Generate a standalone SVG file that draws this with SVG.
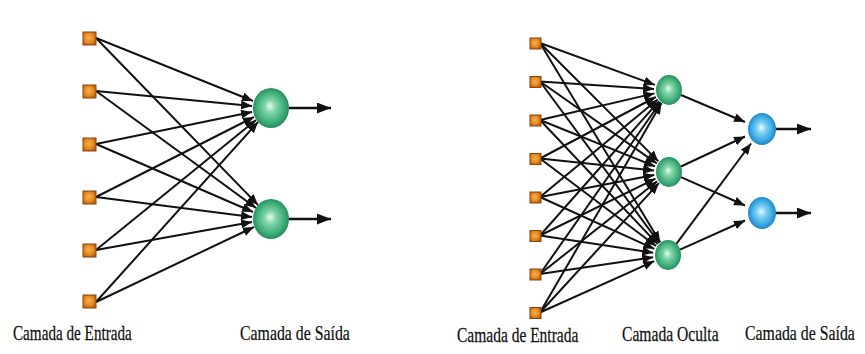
<svg xmlns="http://www.w3.org/2000/svg" width="865" height="354" viewBox="0 0 865 354">
<style>
.c line{stroke:#111;stroke-width:2;marker-end:url(#ah)}
.c .o{stroke-width:2.4;marker-end:url(#ahb)}
.sq{stroke:#8a4608;stroke-width:1;fill:url(#gs)}
.g{fill:url(#gg)}
.b{fill:url(#gb)}
.t{font-family:"Liberation Serif","Times New Roman",serif;font-size:22px;fill:#111;stroke:#111;stroke-width:0.25}
</style>
<defs>
<marker id="ah" markerUnits="userSpaceOnUse" markerWidth="11" markerHeight="9" refX="11" refY="4.5" orient="auto"><path d="M0,0 L11,4.5 L0,9 z" fill="#111"/></marker>
<marker id="ahb" markerUnits="userSpaceOnUse" markerWidth="14" markerHeight="11" refX="14" refY="5.5" orient="auto"><path d="M0,0 L14,5.5 L0,11 z" fill="#111"/></marker>
<radialGradient id="gs" cx="0.45" cy="0.45" r="0.6"><stop offset="0" stop-color="#f7b04a"/><stop offset="0.6" stop-color="#e68a22"/><stop offset="1" stop-color="#b8600f"/></radialGradient>
<radialGradient id="gg" cx="0.5" cy="0.5" r="0.55" fx="0.47" fy="0.45"><stop offset="0" stop-color="#e6fbef"/><stop offset="0.3" stop-color="#7fd4a6"/><stop offset="0.75" stop-color="#36a872"/><stop offset="1" stop-color="#1d7d52"/></radialGradient>
<radialGradient id="gb" cx="0.5" cy="0.5" r="0.55" fx="0.47" fy="0.45"><stop offset="0" stop-color="#eafaff"/><stop offset="0.3" stop-color="#7fd2f4"/><stop offset="0.75" stop-color="#2fa2dc"/><stop offset="1" stop-color="#1a6fae"/></radialGradient>
</defs>
<rect width="865" height="354" fill="#fff"/>
<g id="connectors" class="c">
<line x1="96" y1="38" x2="253" y2="101"/>
<line x1="96" y1="91" x2="252" y2="106"/>
<line x1="96" y1="144" x2="252" y2="112"/>
<line x1="96" y1="197" x2="254" y2="117"/>
<line x1="96" y1="250" x2="256" y2="120"/>
<line x1="96" y1="302" x2="258" y2="122"/>
<line x1="96" y1="38" x2="258" y2="205"/>
<line x1="96" y1="91" x2="256" y2="208"/>
<line x1="96" y1="144" x2="253" y2="212"/>
<line x1="96" y1="197" x2="252" y2="217"/>
<line x1="96" y1="250" x2="252" y2="222"/>
<line x1="96" y1="302" x2="254" y2="227"/>
<line class="o" x1="289" y1="108" x2="331" y2="108"/>
<line class="o" x1="289" y1="219" x2="331" y2="219"/>
<line x1="540" y1="43" x2="654.9" y2="84.9"/>
<line x1="540" y1="81.5" x2="654" y2="89"/>
<line x1="540" y1="120" x2="654.4" y2="93.4"/>
<line x1="540" y1="158.5" x2="655.8" y2="97"/>
<line x1="540" y1="197" x2="657.5" y2="99.6"/>
<line x1="540" y1="235.5" x2="659" y2="101.2"/>
<line x1="540" y1="274" x2="660.4" y2="102.3"/>
<line x1="540" y1="312.5" x2="661.5" y2="103"/>
<line x1="540" y1="43" x2="658.4" y2="161.4"/>
<line x1="540" y1="81.5" x2="656.7" y2="163.4"/>
<line x1="540" y1="120" x2="655.1" y2="166.4"/>
<line x1="540" y1="158.5" x2="654.1" y2="170.4"/>
<line x1="540" y1="197" x2="654.3" y2="174.9"/>
<line x1="540" y1="235.5" x2="655.5" y2="178.6"/>
<line x1="540" y1="274" x2="657.2" y2="181.3"/>
<line x1="540" y1="312.5" x2="658.9" y2="183.1"/>
<line x1="540" y1="43" x2="660.2" y2="242.2"/>
<line x1="540" y1="81.5" x2="659.1" y2="242.9"/>
<line x1="540" y1="120" x2="657.7" y2="244.1"/>
<line x1="540" y1="158.5" x2="656" y2="246"/>
<line x1="540" y1="197" x2="654.3" y2="248.8"/>
<line x1="540" y1="235.5" x2="653.2" y2="252.7"/>
<line x1="540" y1="274" x2="653.2" y2="257.2"/>
<line x1="540" y1="312.5" x2="654.3" y2="261.1"/>
<line x1="681" y1="95" x2="745" y2="122"/>
<line x1="681" y1="166.5" x2="745" y2="136.5"/>
<line x1="681" y1="177.2" x2="745" y2="205.5"/>
<line x1="675.8" y1="244.6" x2="751" y2="143.5"/>
<line x1="680" y1="249.7" x2="745" y2="220.5"/>
<line class="o" x1="776" y1="129" x2="811" y2="129"/>
<line class="o" x1="776" y1="213" x2="811" y2="213"/>
</g>
<g id="left-input-layer">
<rect id="li1" class="sq" x="83" y="32" width="13" height="13"/>
<rect id="li2" class="sq" x="83" y="85" width="13" height="13"/>
<rect id="li3" class="sq" x="83" y="138" width="13" height="13"/>
<rect id="li4" class="sq" x="83" y="191" width="13" height="13"/>
<rect id="li5" class="sq" x="83" y="244" width="13" height="13"/>
<rect id="li6" class="sq" x="83" y="295" width="13" height="13"/>
</g>
<g id="left-output-layer">
<ellipse id="lo1" class="g" cx="271" cy="108" rx="18" ry="20"/>
<ellipse id="lo2" class="g" cx="271" cy="219" rx="18" ry="20"/>
</g>
<g id="right-input-layer">
<rect id="ri1" class="sq" x="530" y="38" width="11" height="11"/>
<rect id="ri2" class="sq" x="530" y="76.5" width="11" height="11"/>
<rect id="ri3" class="sq" x="530" y="115" width="11" height="11"/>
<rect id="ri4" class="sq" x="530" y="153.5" width="11" height="11"/>
<rect id="ri5" class="sq" x="530" y="192" width="11" height="11"/>
<rect id="ri6" class="sq" x="530" y="230.5" width="11" height="11"/>
<rect id="ri7" class="sq" x="530" y="269" width="11" height="11"/>
<rect id="ri8" class="sq" x="530" y="307.5" width="11" height="11"/>
</g>
<g id="right-hidden-layer">
<ellipse id="rh1" class="g" cx="669" cy="90" rx="13" ry="15"/>
<ellipse id="rh2" class="g" cx="669" cy="172" rx="13" ry="15"/>
<ellipse id="rh3" class="g" cx="668" cy="255" rx="13" ry="15"/>
</g>
<g id="right-output-layer">
<ellipse id="ro1" class="b" cx="762" cy="129" rx="14" ry="16"/>
<ellipse id="ro2" class="b" cx="762" cy="213" rx="14" ry="16"/>
</g>
<g id="labels">
<text class="t" transform="translate(13,340) scale(0.69,1)">Camada de Entrada</text>
<text class="t" transform="translate(240,340) scale(0.72,1)">Camada de Saída</text>
<text class="t" transform="translate(457,342) scale(0.705,1)">Camada de Entrada</text>
<text class="t" transform="translate(622,341) scale(0.71,1)">Camada Oculta</text>
<text class="t" transform="translate(745,340) scale(0.72,1)">Camada de Saída</text>
</g>
</svg>
